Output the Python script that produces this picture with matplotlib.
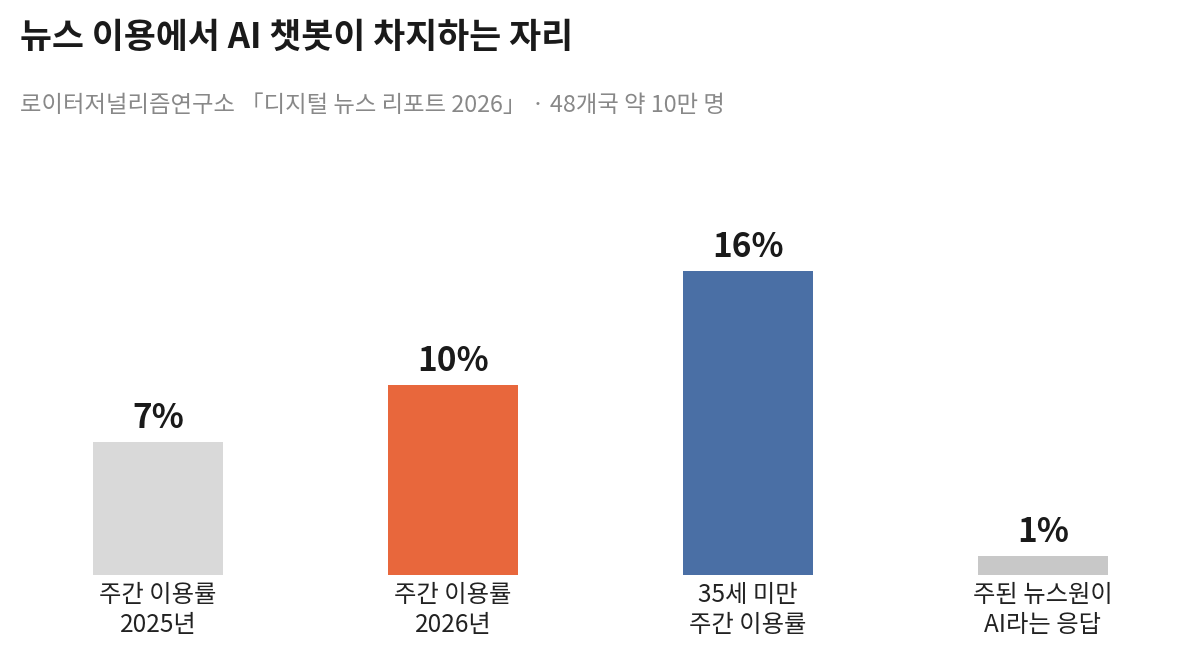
from matplotlib import pyplot as plt
import numpy as np

plt.rcParams['font.family'] = ['Noto Sans CJK KR', 'DejaVu Sans']

# Data
categories = ['주간 이용률\n2025년', '주간 이용률\n2026년', '35세 미만\n주간 이용률', '주된 뉴스원이\nAI라는 응답']
values = [7, 10, 16, 1]
colors = ['#d9d9d9', '#e8673c', '#4a6fa5', '#c8c8c8']

title = '뉴스 이용에서 AI 챗봇이 차지하는 자리'
subtitle = '로이터저널리즘연구소 「디지털 뉴스 리포트 2026」 · 48개국 약 10만 명'

W, H = 1178, 661
fig = plt.figure(figsize=(W / 100, H / 100), dpi=100)

# axes placed so baseline sits at y=575px and 1% = 19px
ax_left, ax_right = 40, 1161
ax_bottom, ax_top = 575, 575 - 19 * 18
ax = fig.add_axes([ax_left / W, 1 - ax_bottom / H, (ax_right - ax_left) / W, (ax_bottom - ax_top) / H])

x = np.arange(len(values))
ax.bar(x, values, width=0.44, color=colors)
ax.set_xlim(-0.4, 3.4)
ax.set_ylim(0, 18)

for xi, v in zip(x, values):
    ax.text(xi, v + 0.35, f'{v}%', ha='center', va='bottom', fontsize=24, fontweight='bold', color='#1a1a1a')

ax.set_xticks(x)
ax.set_xticklabels(categories, fontsize=17.5, color='#222222', linespacing=1.2)
ax.tick_params(axis='x', length=0, pad=5)
ax.set_yticks([])
for s in ax.spines.values():
    s.set_visible(False)

fig.text(20 / W, 1 - 37 / H, title, fontsize=25, fontweight='bold', color='#1a1a1a', va='center', ha='left')
fig.text(20 / W, 1 - 105 / H, subtitle, fontsize=16.8, color='#888888', va='center', ha='left')

fig.savefig('out.png', dpi=100, facecolor='white')
